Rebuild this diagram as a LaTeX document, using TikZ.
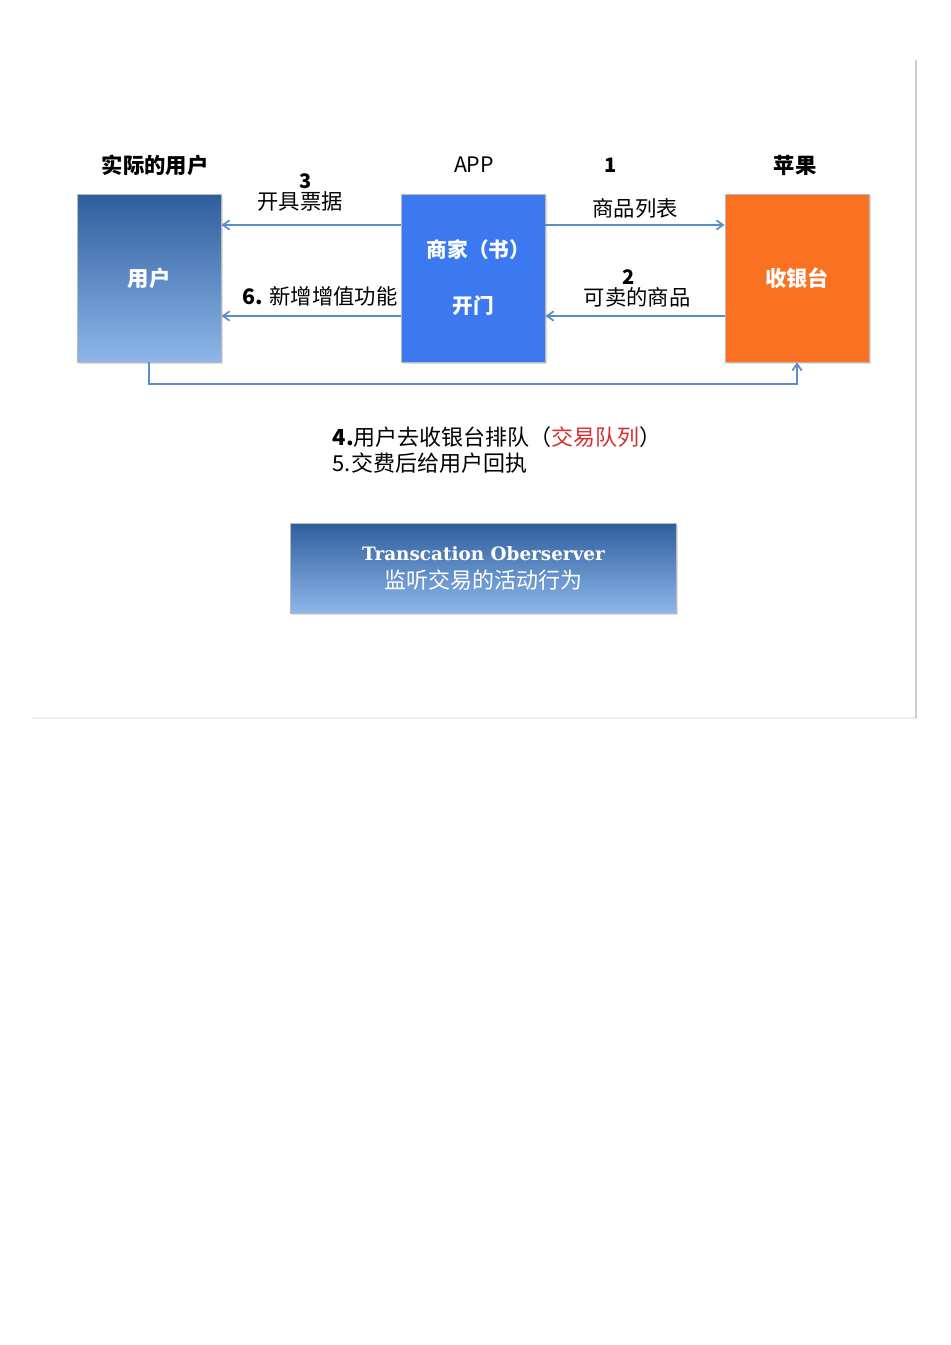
\documentclass[tikz,border=0pt]{standalone}
\usepackage{fontspec}
\setmainfont{Noto Sans CJK SC}
\newfontfamily\slab{DejaVu Serif}
\usetikzlibrary{arrows.meta,shadows}

\definecolor{linkblue}{HTML}{5B8EC8}
\definecolor{darkblue}{HTML}{2F5E9E}
\definecolor{paleblue}{HTML}{8DB7EA}
\definecolor{appblue}{HTML}{3C79F1}
\definecolor{payorange}{HTML}{FA7221}
\definecolor{queuered}{HTML}{D3302E}

\tikzset{
  box/.style={draw=gray!55, line width=0.6pt, minimum width=108pt, minimum height=126pt,
    text=white, font=\fontsize{16}{18}\selectfont\bfseries,
    drop shadow={opacity=0.25, shadow xshift=1.2pt, shadow yshift=-1.2pt}},
  link/.style={draw=linkblue, line width=1.6pt, -{Straight Barb[length=5pt, width=7pt, line width=1.3pt]}},
  tag/.style={font=\fontsize{16}{18}\selectfont}
}

\begin{document}
\begin{tikzpicture}[x=0.75pt, y=-0.75pt]
  \useasboundingbox (0,0) rectangle (950,1345);

  % Slide frame
  \draw[gray!15, line width=0.8pt] (32,718) -- (916,718);
  \draw[gray!40, line width=0.8pt] (916,718) -- (916,60);

  % Rows for the connectors
  \coordinate (row1) at (0,225);
  \coordinate (row2) at (0,316);
  \coordinate (row3) at (0,384);

  % The three parties
  \node[box, top color=darkblue, bottom color=paleblue] (user) at (149,278) {用户};
  \node[box, fill=appblue, align=center, font=\fontsize{15.5}{18}\selectfont\bfseries] (merchant) at (473,278)
    {\hspace*{8pt}商家（书）\\[24pt]开门};
  \node[box, fill=payorange] (cashier) at (797,278) {收银台};

  % Titles above the boxes
  \node[tag, font=\fontsize{16}{18}\selectfont\bfseries] (usertitle) at (155,165) {实际的用户};
  \node[tag] (apptitle) at (474,165) {APP};
  \node[tag, font=\fontsize{16}{18}\selectfont\bfseries] (appletitle) at (795,165) {苹果};

  % Connectors between the boxes
  \draw[link] (merchant.west |- row1) -- (user.east |- row1);
  \draw[link] (merchant.west |- row2) -- (user.east |- row2);
  \draw[link] (merchant.east |- row1) -- (cashier.west |- row1);
  \draw[link] (cashier.west |- row2) -- (merchant.east |- row2);
  \draw[link] (user.south) -- (user.south |- row3) -- (cashier.south |- row3) -- (cashier.south);

  % Labels of the connectors
  \node[tag, font=\fontsize{15}{18}\selectfont\bfseries] (n3) at (306,181) {3};
  \node[tag] (receipt) at (300,201) {开具票据};
  \node[tag] (extra) at (320,296) {\textbf{6.} 新增增值功能};
  \node[tag, font=\fontsize{15}{18}\selectfont\bfseries] (n1) at (611,165) {1};
  \node[tag] (goods) at (635,208) {商品列表};
  \node[tag, font=\fontsize{15}{18}\selectfont\bfseries] (n2) at (629,277) {2};
  \node[tag] (sellable) at (637,297) {可卖的商品};

  % Steps 4 and 5
  \node[anchor=west, align=left, font=\fontsize{16.5}{19.5}\selectfont] (steps) at (328,450)
    {\textbf{4.}用户去收银台排队（\textcolor{queuered}{交易队列}）\\5.交费后给用户回执};

  % Observer box
  \node[box, minimum width=289pt, minimum height=67.5pt, top color=darkblue, bottom color=paleblue,
    align=center, font=\fontsize{16.5}{19}\selectfont] (observer) at (483.5,568)
    {{\slab\bfseries\fontsize{13.8}{16}\selectfont Transcation Oberserver}\\[2pt]监听交易的活动行为};
\end{tikzpicture}
\end{document}
